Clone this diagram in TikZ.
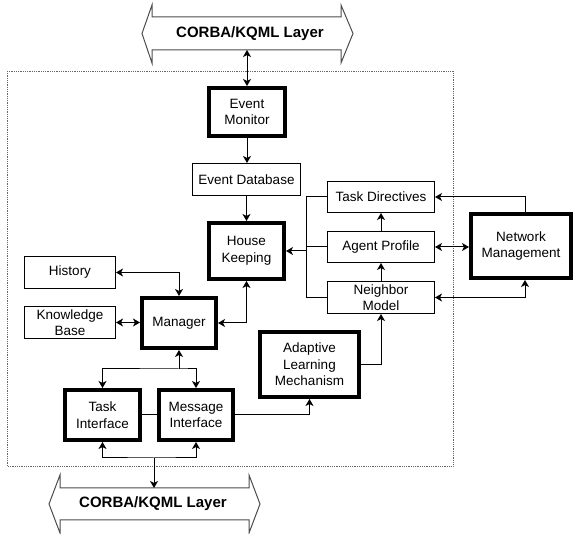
\documentclass[tikz,border=0pt]{standalone}
\usepackage{fontspec}
\setmainfont{Liberation Sans}
\usetikzlibrary{arrows.meta}
\begin{document}
\begin{tikzpicture}[x=1pt,y=-1pt,
  every node/.style={font=\fontsize{13.5}{16.5}\selectfont, align=center, inner sep=0pt},
  thinbox/.style={draw, line width=1pt, rectangle},
  thickbox/.style={draw, line width=4pt, rectangle},
  conn/.style={line width=1pt, >={Stealth[length=7pt,width=8pt,inset=2pt]}},
  layer/.style={draw=black!70, line width=1pt, line join=miter},
  layertext/.style={font=\fontsize{15}{18}\selectfont\bfseries},
  frame/.style={draw=black!60, line width=0.8pt, densely dotted}
]
\useasboundingbox (0,0) rectangle (574,534);

% frame
\draw[frame] (7,71) rectangle (453,466);

% layers
\draw[layer] (152,17) -- (341,17) -- (341,5) -- (353,33.5) -- (341,63) -- (341,50)
  -- (152,50) -- (152,63) -- (142,33.5) -- (152,5) -- cycle;
\node[layertext] (toplayer) at (250,33.5) {CORBA/KQML Layer};
\draw[layer] (60,488) -- (249,488) -- (249,475) -- (260,504) -- (249,533) -- (249,520)
  -- (60,520) -- (60,533) -- (49,504) -- (60,475) -- cycle;
\node[layertext] (botlayer) at (153,504) {CORBA/KQML Layer};
\coordinate (tb) at (247,50);
\coordinate (bb) at (154,488);

% nodes
\node[thickbox, minimum width=76pt, minimum height=48pt] (EM) at (247,112) {Event\\Monitor};
\node[thinbox, minimum width=108pt, minimum height=32pt] (ED) at (246.5,179.5) {Event Database};
\node[thickbox, minimum width=75pt, minimum height=56pt] (HK) at (246.5,251) {House\\Keeping};
\node[thinbox, minimum width=91pt, minimum height=32pt] (HI) at (70,272.5) {History};
\node[thinbox, minimum width=91pt, minimum height=32pt] (KB) at (70,322.5) {Knowledge\\Base};
\node[thickbox, minimum width=74pt, minimum height=50pt] (MG) at (179,323) {Manager};
\node[thinbox, minimum width=107pt, minimum height=31pt] (TD) at (381,197) {Task Directives};
\node[thinbox, minimum width=107pt, minimum height=31pt] (AP) at (381,247) {Agent Profile};
\node[thinbox, minimum width=107pt, minimum height=32pt] (NB) at (381,297.5) {Neighbor\\Model};
\node[thickbox, minimum width=100pt, minimum height=64pt] (NM) at (521,246) {Network\\Management};
\node[thickbox, minimum width=99pt, minimum height=65pt] (AL) at (309.5,364.5) {Adaptive\\Learning\\Mechanism};
\node[thickbox, minimum width=75pt, minimum height=50pt] (TI) at (102.5,415) {Task\\Interface};
\node[thickbox, minimum width=74pt, minimum height=50pt] (MI) at (196,415) {Message\\Interface};

\coordinate (busHK) at (306,251);
\coordinate (mj) at (179,369);
\coordinate (bj) at (154,458);

% connectors
\draw[conn,<->] (tb) -- (EM.north);
\draw[conn,->] (EM.south) -- (EM.south |- ED.north);
\draw[conn,->] (ED.south) -- (HK.north);
\draw[conn,<->] (HI.east) -| (MG.north);
\draw[conn,<->] (KB.east) -- (KB.east -| MG.west);
\draw[conn,<->] (MG.east) -| (HK.south);
\draw[conn] (TD.west) -- ++(-21,0) |- (NB.west);
\draw[conn] (AP.west) -- ++(-21,0);
\draw[conn,->] (busHK) -- (HK.east);
\draw[conn,->] ([xshift=4pt]NM.north) |- (TD.east);
\draw[conn,<->] (AP.east) -- (AP.east -| NM.west);
\draw[conn,<->] (NB.east) -| ([xshift=4pt]NM.south);
\draw[conn,->] (NB.north) -- (AP.south);
\draw[conn,->] (AP.north) -- (TD.south);
\draw[conn,->] (AL.east) -| (NB.south);
\draw[conn,->] (mj) -- (MG.south);
\draw[conn,<->] (TI.north) |- (mj) -| (MI.north);
\draw[conn] (TI.east) -- (MI.west);
\draw[conn,->] (MI.east) -| (AL.south);
\draw[conn,<->] (TI.south) |- (bj) -| (MI.south);
\draw[conn,->] (bj) -- (bb);
\end{tikzpicture}
\end{document}
